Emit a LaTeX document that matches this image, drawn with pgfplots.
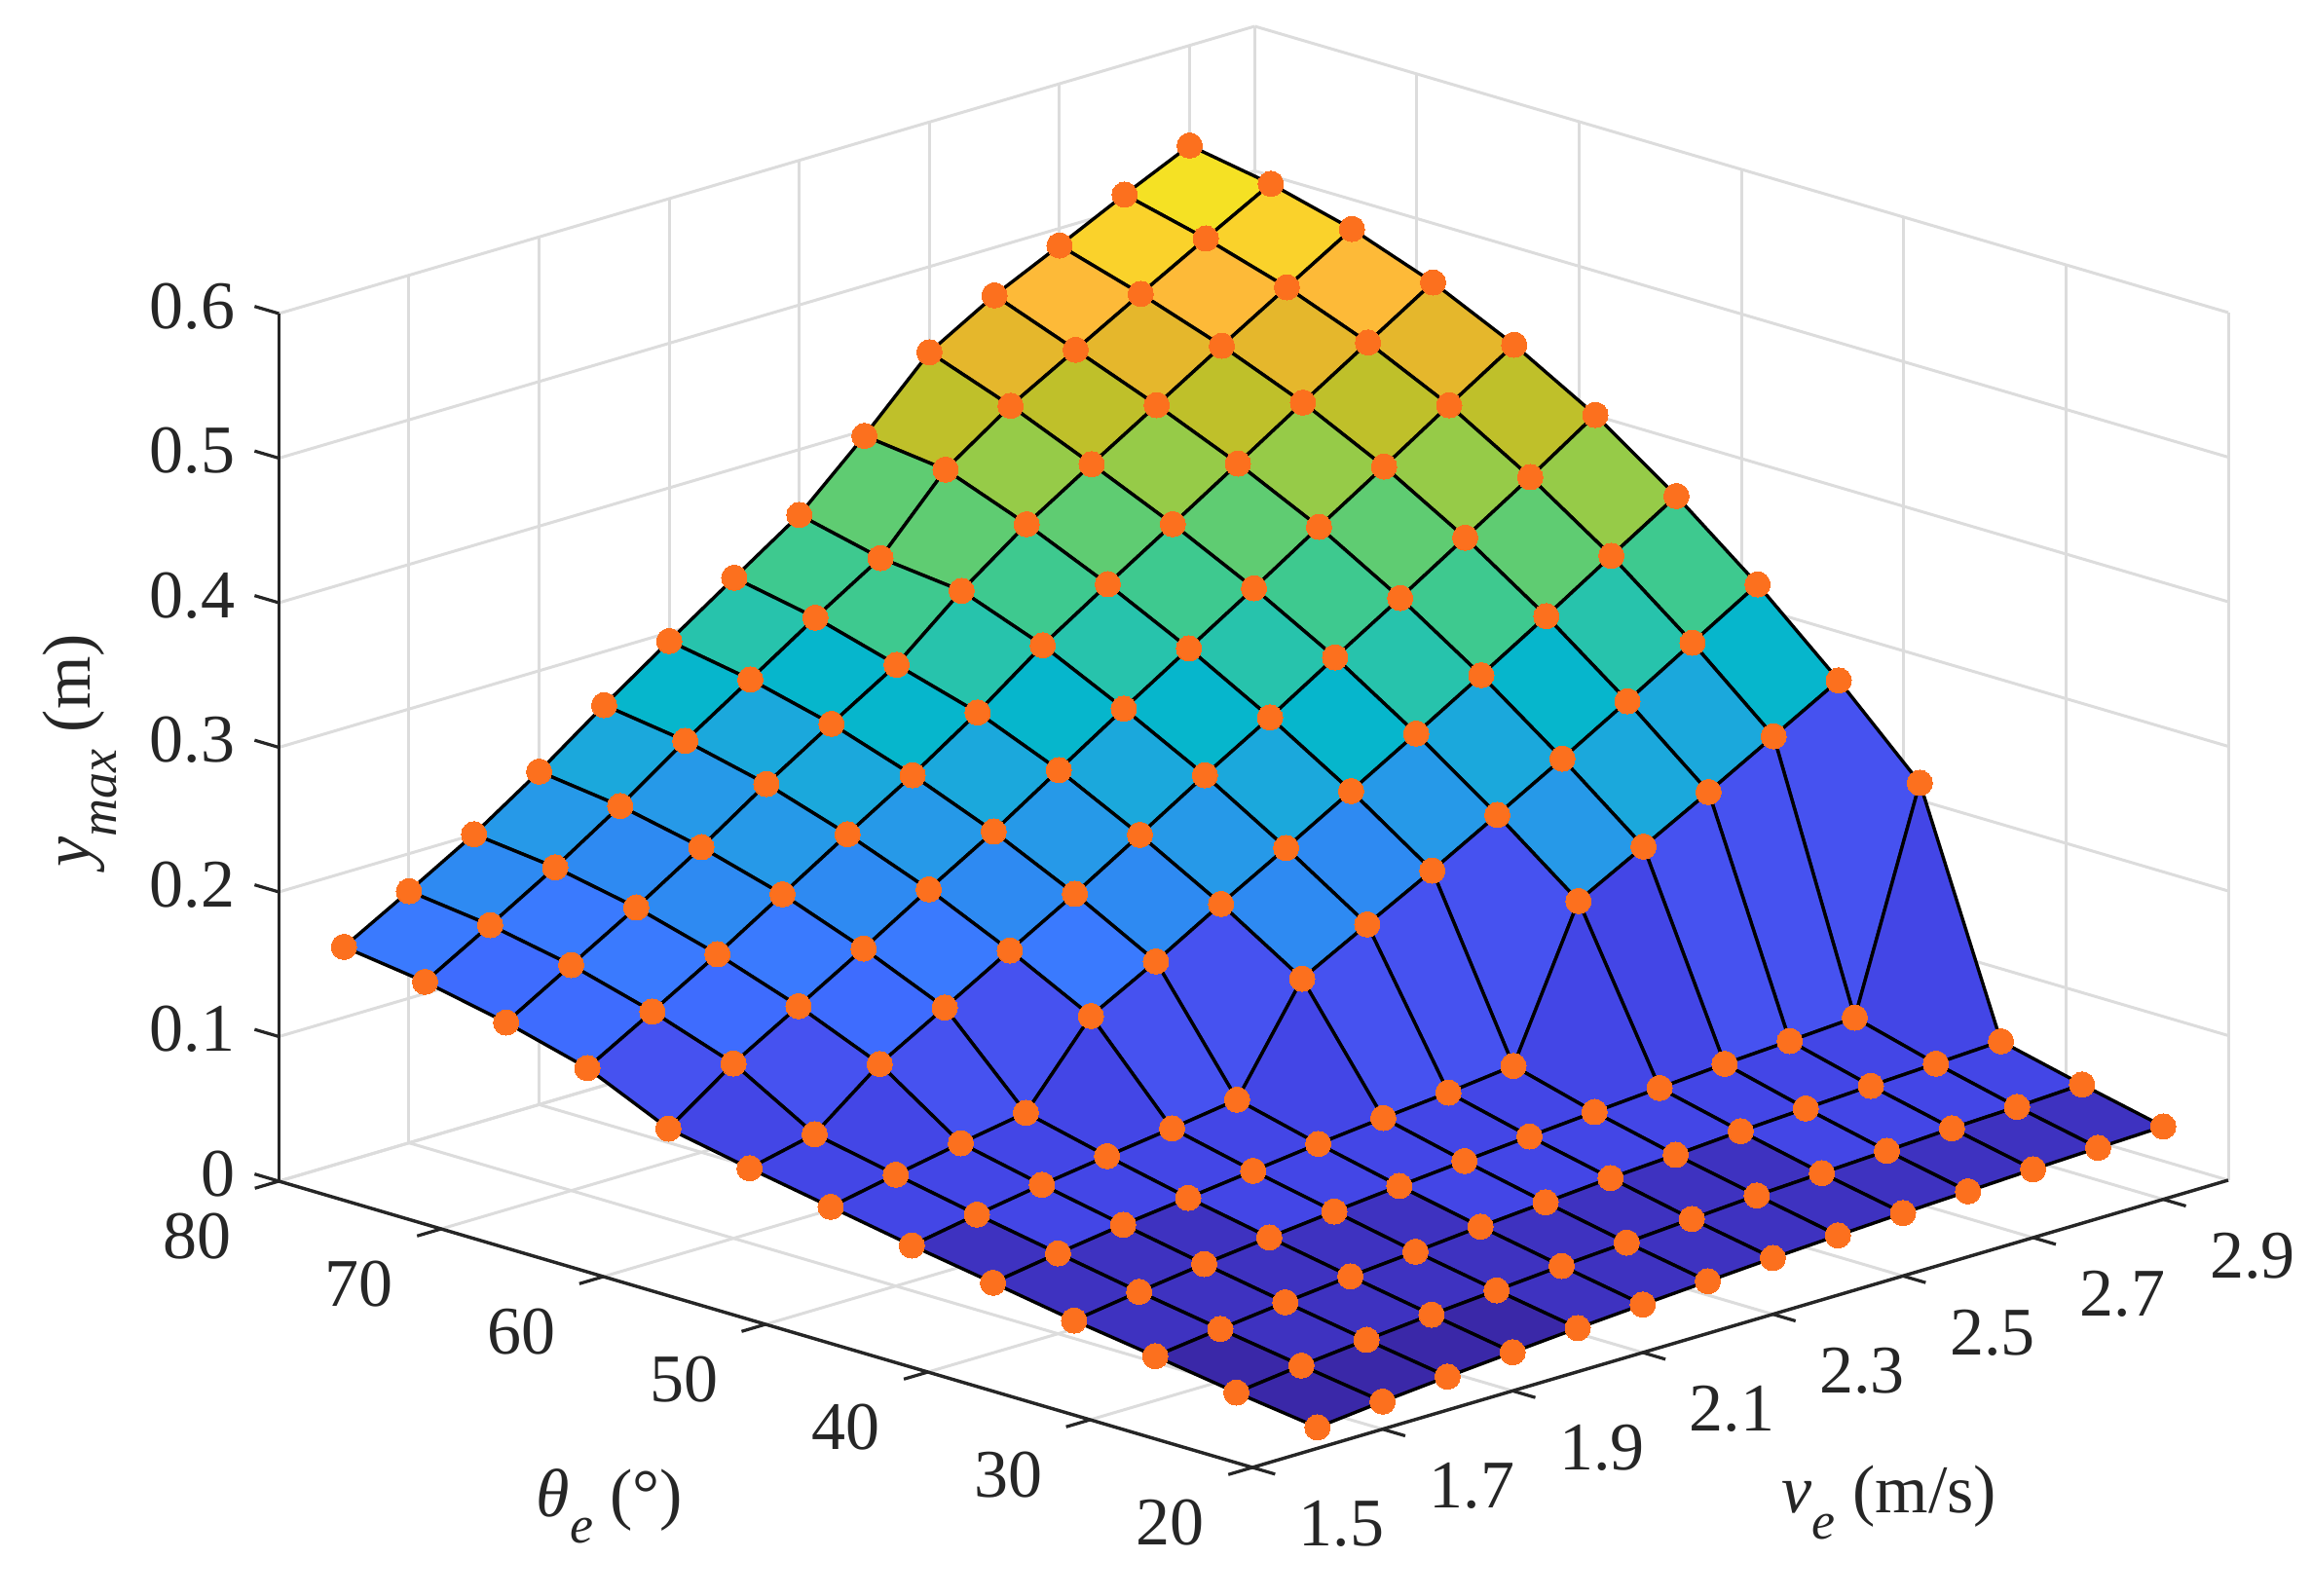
\documentclass[border=0pt]{standalone}
\usepackage{pgfplots}
\usepackage{pgfplotstable}
\usepackage{fontspec}
\setmainfont{Liberation Serif}
\pgfplotsset{compat=1.18}
\definecolor{axc}{HTML}{262626}
\definecolor{grc}{HTML}{DCDCDC}
\definecolor{mkc}{HTML}{FC701E}
\newcommand{\lsub}[1]{\raisebox{-0.85ex}{\fontsize{13.5}{13.5}\selectfont\itshape #1}}
\pgfplotstableread{
v t z
1.6 20 .0145
1.7 20 .0191
1.8 20 .0231
1.9 20 .0267
2.0 20 .0302
2.1 20 .0332
2.2 20 .0361
2.3 20 .0389
2.4 20 .0413
2.5 20 .0435
2.6 20 .0453
2.7 20 .0473
2.8 20 .0489
2.9 20 .0504
1.6 25 .0221
1.7 25 .0275
1.8 25 .0320
1.9 25 .0362
2.0 25 .0398
2.1 25 .0434
2.2 25 .0463
2.3 25 .0494
2.4 25 .0524
2.5 25 .0546
2.6 25 .0568
2.7 25 .0591
2.8 25 .0607
2.9 25 .0629
1.6 30 .0307
1.7 30 .0363
1.8 30 .0415
1.9 30 .0462
2.0 30 .0500
2.1 30 .0541
2.2 30 .0576
2.3 30 .0612
2.4 30 .0640
2.5 30 .0671
2.6 30 .0696
2.7 30 .0720
2.8 30 .0741
2.9 30 .0763
1.6 35 .0389
1.7 35 .0455
1.8 35 .0515
1.9 35 .0566
2.0 35 .0613
2.1 35 .0657
2.2 35 .0697
2.3 35 .0735
2.4 35 .0771
2.5 35 .0805
2.6 35 .0839
2.7 35 .0865
2.8 35 .0894
2.9 35 .2385
1.6 40 .0485
1.7 40 .0556
1.8 40 .0621
1.9 40 .0675
2.0 40 .0729
2.1 40 .0783
2.2 40 .0830
2.3 40 .0873
2.4 40 .0925
2.5 40 .1933
2.6 40 .2177
2.7 40 .2422
2.8 40 .2675
2.9 40 .2929
1.6 45 .0578
1.7 45 .0659
1.8 45 .0733
1.9 45 .0798
2.0 45 .0858
2.1 45 .0924
2.2 45 .1628
2.3 45 .1871
2.4 45 .2111
2.5 45 .2364
2.6 45 .2620
2.7 45 .2885
2.8 45 .3157
2.9 45 .3428
1.6 50 .0680
1.7 50 .0770
1.8 50 .0855
1.9 50 .0933
2.0 50 .1470
2.1 50 .1715
2.2 50 .1980
2.3 50 .2235
2.4 50 .2496
2.5 50 .2761
2.6 50 .3032
2.7 50 .3308
2.8 50 .3593
2.9 50 .3874
1.6 55 .0782
1.7 55 .0885
1.8 55 .1238
1.9 55 .1496
2.0 55 .1758
2.1 55 .2017
2.2 55 .2293
2.3 55 .2573
2.4 55 .2840
2.5 55 .3123
2.6 55 .3401
2.7 55 .3686
2.8 55 .3972
2.9 55 .4270
1.6 60 .0891
1.7 60 .1209
1.8 60 .1473
1.9 60 .1739
2.0 60 .2016
2.1 60 .2283
2.2 60 .2576
2.3 60 .2868
2.4 60 .3152
2.5 60 .3436
2.6 60 .3728
2.7 60 .4013
2.8 60 .4305
2.9 60 .4590
1.6 65 .1145
1.7 65 .1403
1.8 65 .1667
1.9 65 .1949
2.0 65 .2232
2.1 65 .2508
2.2 65 .2809
2.3 65 .3141
2.4 65 .3431
2.5 65 .3714
2.6 65 .4001
2.7 65 .4290
2.8 65 .4573
2.9 65 .4856
1.6 70 .1295
1.7 70 .1560
1.8 70 .1825
1.9 70 .2110
2.0 70 .2415
2.1 70 .2698
2.2 70 .2974
2.3 70 .3353
2.4 70 .3681
2.5 70 .3964
2.6 70 .4240
2.7 70 .4518
2.8 70 .4790
2.9 70 .5061
1.6 75 .1411
1.7 75 .1671
1.8 75 .1938
1.9 75 .2230
2.0 75 .2548
2.1 75 .2840
2.2 75 .3135
2.3 75 .3415
2.4 75 .3894
2.5 75 .4203
2.6 75 .4457
2.7 75 .4712
2.8 75 .4962
2.9 75 .5208
1.6 80 .1488
1.7 80 .1741
1.8 80 .2002
1.9 80 .2303
2.0 80 .2630
2.1 80 .2941
2.2 80 .3246
2.3 80 .3548
2.4 80 .3962
2.5 80 .4408
2.6 80 .4669
2.7 80 .4882
2.8 80 .5101
2.9 80 .5308
}\surfdata
\begin{document}
\begin{tikzpicture}
\begin{axis}[
  x={(167pt,49.17pt)}, y={(-4.165pt,1.225pt)}, z={(0pt,371.25pt)},
  xmin=1.5,xmax=3,ymin=20,ymax=80,zmin=0,zmax=0.6,
  clip=false,
  grid=major,
  major grid style={color=grc,line width=0.75pt},
  axis line style={draw=none},
  xtick={1.5,1.7,1.9,2.1,2.3,2.5,2.7,2.9},
  ytick={20,30,40,50,60,70,80},
  ztick={0,0.1,0.2,0.3,0.4,0.5,0.6},
  tick align=outside,
  major tick length=6.5pt,
  tick style={draw=none},
  /pgf/number format/assume math mode=true,
  /pgf/number format/fixed,
  tick label style={font=\fontsize{17.5}{17.5}\selectfont,color=axc},
  xticklabel style={xshift=8.3pt,yshift=-1.5pt},
  yticklabel style={xshift=-6.8pt,yshift=-1.5pt},
  zticklabel style={xshift=-1.5pt},
  colormap={band}{
    rgb255=(58,40,168) rgb255=(62,50,192) rgb255=(67,70,230) rgb255=(70,82,240)
    rgb255=(62,108,254) rgb255=(58,122,254) rgb255=(46,138,242) rgb255=(38,153,232) rgb255=(27,168,220)
    rgb255=(6,182,204) rgb255=(39,195,172) rgb255=(62,201,143)
    rgb255=(95,204,114) rgb255=(150,203,72) rgb255=(191,192,42) rgb255=(229,183,44)
    rgb255=(253,186,56) rgb255=(250,210,43) rgb255=(245,225,36) rgb255=(245,225,36)},
  colormap access=piecewise constant,
  point meta min=0, point meta max=0.54,
]
% pale edges of the box
\addplot3[grc,line width=0.75pt,forget plot] coordinates {(3,80,0) (3,80,0.6)};
\addplot3[grc,line width=0.75pt,forget plot] coordinates {(3,20,0) (3,20,0.6)};
% surface
\addplot3[surf,shader=flat corner,draw=black,line width=0.85pt,
  mesh/rows=13,mesh/cols=14,mesh/ordering=x varies] table[x=v,y=t,z=z] {\surfdata};
\addplot3[only marks,mark=*,mark size=3.25pt,mark options={draw=mkc,fill=mkc,line width=0pt}]
  table[x=v,y=t,z=z] {\surfdata};
% dark axes
\addplot3[axc,line width=0.85pt,forget plot] coordinates {(1.5,80,0) (1.5,80,0.6)};
\addplot3[axc,line width=0.85pt,forget plot] coordinates {(1.5,80,0) (1.5,20,0) (3,20,0)};
% ticks lying in the floor and wall planes
\pgfplotsinvokeforeach{20,30,40,50,60,70,80}{
  \addplot3[axc,line width=0.8pt,forget plot] coordinates {(1.5,#1,0) (1.463,#1,0)};}
\pgfplotsinvokeforeach{1.5,1.7,1.9,2.1,2.3,2.5,2.7,2.9}{
  \addplot3[axc,line width=0.8pt,forget plot] coordinates {(#1,20,0) (#1,18.6,0)};}
\pgfplotsinvokeforeach{0,0.1,0.2,0.3,0.4,0.5,0.6}{
  \addplot3[axc,line width=0.8pt,forget plot] coordinates {(1.5,80,#1) (1.5,81.5,#1)};}
\coordinate (FC) at (axis cs:1.5,20,0);
\end{axis}
\pgfresetboundingbox
\path (FC) ++(-321.5pt,-32.75pt) coordinate (BL);
\path (FC) ++(272pt,376.75pt) coordinate (TR);
\path[use as bounding box] (BL) rectangle (TR);
\node[rotate=90,font=\fontsize{17.5}{17.5}\selectfont,color=axc] at ([xshift=-301pt,yshift=184pt]FC) {\textit{y}\lsub{max} (m)};
\node[font=\fontsize{17.5}{17.5}\selectfont,color=axc] at ([xshift=-165pt,yshift=-10pt]FC) {\textit{θ}\lsub{e} (°)};
\node[font=\fontsize{17.5}{17.5}\selectfont,color=axc] at ([xshift=163.5pt,yshift=-9pt]FC) {\textit{v}\lsub{e} (m/s)};
\end{tikzpicture}
\end{document}
